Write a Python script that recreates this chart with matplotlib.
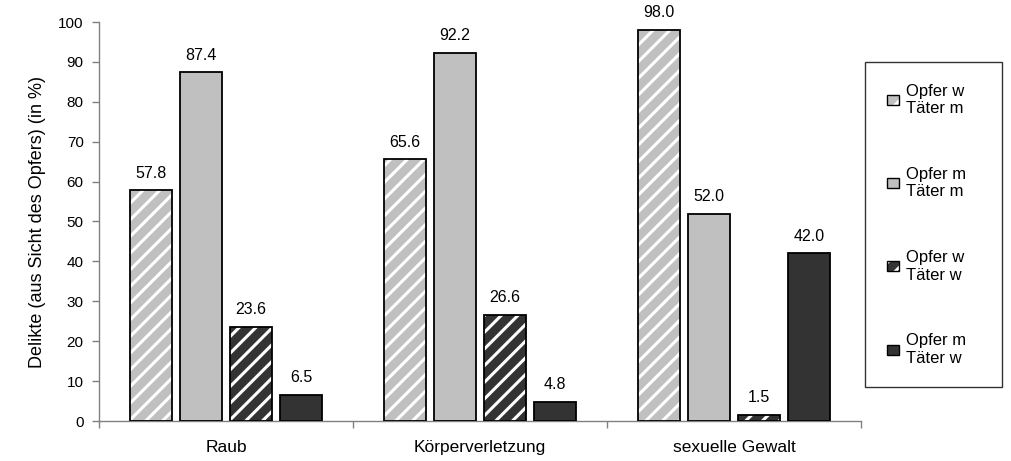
import matplotlib
matplotlib.use("Agg")
import matplotlib.pyplot as plt
import numpy as np

categories = ["Raub", "Körperverletzung", "sexuelle Gewalt"]
series_labels = ["Opfer w\nTäter m", "Opfer m\nTäter m", "Opfer w\nTäter w", "Opfer m\nTäter w"]
opfer_w_taeter_m = [57.8, 65.6, 98.0]
opfer_m_taeter_m = [87.4, 92.2, 52.0]
opfer_w_taeter_w = [23.6, 26.6, 1.5]
opfer_m_taeter_w = [6.5, 4.8, 42.0]
yticks = list(range(0, 101, 10))

series = [opfer_w_taeter_m, opfer_m_taeter_m, opfer_w_taeter_w, opfer_m_taeter_w]
faces = ["#c0c0c0", "#c0c0c0", "#333333", "#333333"]
hatches = ["//", None, "//", None]

plt.rcParams["font.family"] = ["Liberation Sans", "DejaVu Sans"]
plt.rcParams["hatch.linewidth"] = 2.2

fig = plt.figure(figsize=(10.12, 4.61), dpi=100)
ax = fig.add_axes([99 / 1012, 1 - 421 / 461, (861 - 99) / 1012, (421 - 22) / 461])

x = np.arange(len(categories))
step = 50 / 254
width = 42 / 254
handles = []
for i, vals in enumerate(series):
    pos = x + (i - 1.5) * step
    if hatches[i]:
        ax.bar(pos, vals, width, color=faces[i], edgecolor="white", hatch=hatches[i], linewidth=0, zorder=2)
        h1 = plt.Rectangle((0, 0), 1, 1, facecolor=faces[i], edgecolor="white", hatch=hatches[i], linewidth=0)
    else:
        ax.bar(pos, vals, width, color=faces[i], linewidth=0, zorder=2)
        h1 = plt.Rectangle((0, 0), 1, 1, facecolor=faces[i], linewidth=0)
    ax.bar(pos, vals, width, fill=False, edgecolor="black", linewidth=1.3, zorder=3)
    h2 = plt.Rectangle((0, 0), 1, 1, fill=False, edgecolor="black", linewidth=1.0)
    handles.append((h1, h2))
    for p, v in zip(pos, vals):
        ax.annotate(f"{v:.1f}", (p, v), xytext=(0, 7), textcoords="offset points",
                    ha="center", va="bottom", fontsize=11.5)

ax.set_xlim(-0.5, len(categories) - 0.5)
ax.set_ylim(0, 100)
ax.set_yticks(yticks)
ax.tick_params(axis="y", labelsize=11, length=5, color="#808080", width=1, pad=6)
ax.set_xticks(x)
ax.set_xticklabels(categories, fontsize=12.5)
ax.tick_params(axis="x", length=0, pad=14)
ax.set_xticks(np.arange(len(categories) + 1) - 0.5, minor=True)
ax.tick_params(axis="x", which="minor", length=5, color="#808080", width=1)
ax.set_ylabel("Delikte (aus Sicht des Opfers) (in %)", fontsize=13, labelpad=9)
for s in ["top", "right"]:
    ax.spines[s].set_visible(False)
for s in ["left", "bottom"]:
    ax.spines[s].set_color("#808080")
    ax.spines[s].set_linewidth(1)

leg = fig.legend(handles, series_labels, loc="upper left", mode="expand",
                 bbox_to_anchor=(865 / 1012, 1 - 385 / 461, 137 / 1012, 323 / 461),
                 fontsize=12, frameon=True, fancybox=False, edgecolor="black",
                 handlelength=0.75, handleheight=0.55, handletextpad=0.4,
                 labelspacing=3.05, borderpad=1.3, borderaxespad=0)
leg.get_frame().set_linewidth(1)

fig.savefig("out.png", dpi=100)
